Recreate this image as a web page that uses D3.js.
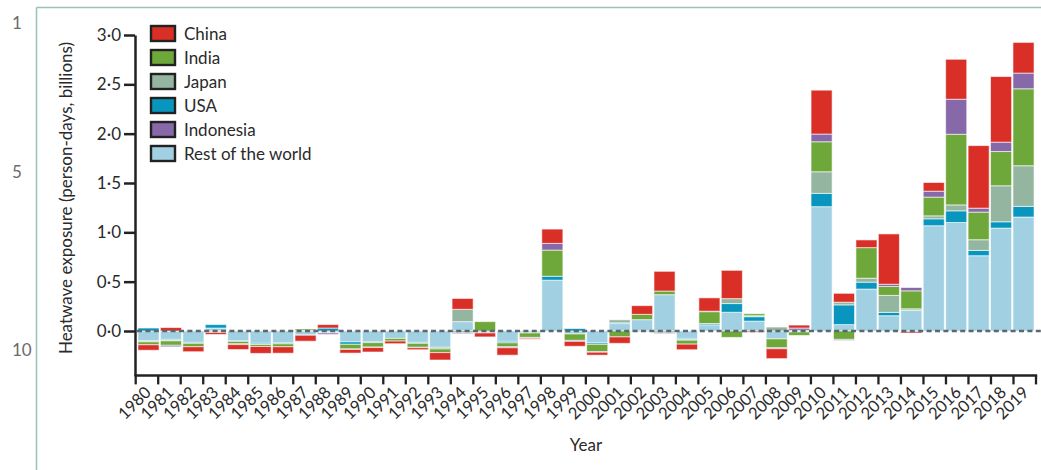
<!DOCTYPE html>
<html>
<head>
<meta charset="utf-8">
<script src="https://cdn.jsdelivr.net/npm/d3@7"></script>
<style>
  body { margin: 0; background: #fff; }
  text { font-family: Lato, "Open Sans", "Noto Sans", sans-serif; fill: #2a2a2a; }
</style>
</head>
<body>
<svg id="chart" width="1041" height="470"></svg>
<script>
// Heatwave exposure change by year, billions of person-days
const years = d3.range(1980, 2020);

const restOfWorld = [-0.10, -0.085, -0.115, 0.03, -0.10, -0.125, -0.12, -0.035, -0.015, -0.11,
  -0.11, -0.075, -0.115, -0.165, 0.095, -0.015, -0.105, -0.015, 0.515, -0.03,
  -0.12, 0.075, 0.115, 0.368, -0.075, 0.063, 0.19, 0.10, -0.08, -0.005,
  1.26, 0.065, 0.425, 0.155, 0.21, 1.067, 1.10, 0.763, 1.043, 1.155];
const usa = [0.03, -0.01, -0.01, 0.035, -0.005, -0.012, -0.01, -0.008, 0.03, -0.025,
  -0.008, 0, -0.01, 0, 0, 0, -0.015, -0.005, 0.04, 0.025,
  -0.015, 0.008, 0, 0, -0.013, 0.013, 0.088, 0.045, 0, 0.008,
  0.135, 0.20, 0.07, 0.034, -0.005, 0.07, 0.118, 0.054, 0.064, 0.108];
const japan = [-0.01, -0.005, 0, -0.005, 0, 0, 0, 0.005, -0.005, 0,
  0, 0, 0, -0.017, 0.125, 0, 0, 0, 0, 0,
  0, 0.03, 0, -0.02, -0.005, 0, 0.05, 0.01, 0.04, -0.005,
  0.219, 0.027, 0.04, 0.172, 0.015, 0.03, 0.06, 0.108, 0.365, 0.412];
const india = [-0.03, -0.045, -0.035, -0.01, -0.025, -0.02, -0.03, 0.015, 0, -0.047,
  -0.045, -0.027, -0.04, -0.037, -0.015, 0.095, -0.04, -0.045, 0.265, -0.065,
  -0.075, -0.06, 0.054, 0.037, -0.04, 0.12, -0.065, 0.02, -0.09, -0.035,
  0.304, -0.085, 0.31, 0.09, 0.182, 0.19, 0.716, 0.28, 0.347, 0.78];
const indonesia = [0, -0.015, 0, 0, -0.008, 0, 0, 0, -0.015, -0.005,
  -0.005, 0, -0.005, 0, -0.012, -0.005, -0.01, -0.008, 0.068, -0.01,
  -0.005, 0, -0.005, -0.007, 0, 0.005, 0, 0, -0.01, 0.022,
  0.078, -0.01, 0, 0.023, 0.034, 0.06, 0.355, 0.04, 0.095, 0.159];
const china = [-0.055, 0.035, -0.05, -0.02, -0.05, -0.07, -0.065, -0.06, 0.035, -0.037,
  -0.045, -0.027, -0.02, -0.075, 0.11, -0.04, -0.075, -0.01, 0.145, -0.05,
  -0.03, -0.065, 0.088, 0.20, -0.057, 0.135, 0.287, -0.012, -0.10, 0.03,
  0.445, 0.09, 0.078, 0.51, -0.015, 0.088, 0.405, 0.634, 0.665, 0.311];

const yTicks = [0, 0.5, 1.0, 1.5, 2.0, 2.5, 3.0];

// Stacking order from the zero line outwards
const stackKeys = ["Rest of the world", "USA", "Japan", "India", "Indonesia", "China"];
const legendKeys = ["China", "India", "Japan", "USA", "Indonesia", "Rest of the world"];
const colors = {
  "China": "#d92f27",
  "India": "#6fa83a",
  "Japan": "#94b59f",
  "USA": "#0896be",
  "Indonesia": "#8768a8",
  "Rest of the world": "#a0d0e2"
};

const seriesByKey = {
  "Rest of the world": restOfWorld, "USA": usa, "Japan": japan,
  "India": india, "Indonesia": indonesia, "China": china
};
const rows = years.map((yr, i) => {
  const r = { year: yr };
  stackKeys.forEach(k => { r[k] = seriesByKey[k][i]; });
  return r;
});

const svg = d3.select("#chart");

// page frame and margin line numbers
const frame = "#96c4ae";
svg.append("line").attr("x1", 36.5).attr("x2", 36.5).attr("y1", 7.5).attr("y2", 470)
  .attr("stroke", frame).attr("stroke-width", 1.5);
svg.append("line").attr("x1", 36.5).attr("x2", 1041).attr("y1", 7.5).attr("y2", 7.5)
  .attr("stroke", frame).attr("stroke-width", 1.5);
[["1", 29], ["5", 178], ["10", 356]].forEach(([t, yy]) => {
  svg.append("text").attr("x", 12).attr("y", yy).attr("font-size", 17)
    .style("fill", "#6b6b6b").text(t);
});

// scales
const y = d3.scaleLinear().domain([-0.45, 3.0]).range([375.4, 35]);
const xEdge = d3.scaleBand().domain(years).range([135.7, 1036]).padding(0);
const x = d3.scaleBand().domain(years).range([137.5, 1034.5]).paddingInner(0.06).paddingOuter(0.02);

const stacked = d3.stack().keys(stackKeys)
  .order(d3.stackOrderNone).offset(d3.stackOffsetDiverging)(rows);

// bars
const gBars = svg.append("g");
stacked.forEach(layer => {
  gBars.append("g").attr("fill", colors[layer.key])
    .selectAll("rect")
    .data(layer.filter(d => d[1] !== d[0]))
    .join("rect")
    .attr("x", d => x(d.data.year))
    .attr("width", x.bandwidth())
    .attr("y", d => y(Math.max(d[0], d[1])))
    .attr("height", d => Math.abs(y(d[0]) - y(d[1])))
    .attr("stroke", "#fff").attr("stroke-opacity", 0.6).attr("stroke-width", 1);
});

// dashed zero line
svg.append("line")
  .attr("x1", 137).attr("x2", 1041)
  .attr("y1", y(0)).attr("y2", y(0))
  .attr("stroke", "#5b6870").attr("stroke-width", 2.4)
  .attr("stroke-dasharray", "5,3.4");

// y axis
const fmt = v => d3.format(".1f")(v).replace(".", "\u00b7");
const yAxis = svg.append("g").attr("transform", "translate(135,0)")
  .call(d3.axisLeft(y).tickValues(yTicks).tickFormat(fmt).tickSize(11).tickSizeOuter(0).tickPadding(3));
yAxis.select(".domain").attr("stroke", "#222").attr("stroke-width", 2.5);
yAxis.selectAll(".tick line").attr("stroke", "#222").attr("stroke-width", 2.5);
yAxis.selectAll(".tick text").attr("font-size", 17).attr("font-family", null).style("fill", "#2a2a2a");

// x axis: ticks at bar edges, labels at bar centres
const axisY = y.range()[0];
const gx = svg.append("g");
gx.append("line").attr("x1", 134.5).attr("x2", 1037.2).attr("y1", axisY).attr("y2", axisY)
  .attr("stroke", "#222").attr("stroke-width", 2.5);
const edges = years.map(v => xEdge(v)).concat([xEdge.range()[1]]);
gx.selectAll("line.tick").data(edges).join("line").attr("class", "tick")
  .attr("x1", d => d).attr("x2", d => d).attr("y1", axisY).attr("y2", axisY + 9)
  .attr("stroke", "#222").attr("stroke-width", 2.3);
gx.selectAll("text").data(years).join("text")
  .attr("transform", d => `translate(${xEdge(d) + xEdge.bandwidth() / 2 + 1},${axisY + 14}) rotate(-45)`)
  .attr("text-anchor", "end").attr("dy", "0.35em")
  .attr("font-size", 16.5).text(d => d);

// axis titles
svg.append("text").attr("x", 586).attr("y", 451).attr("text-anchor", "middle")
  .attr("font-size", 17).text("Year");
svg.append("text").attr("transform", "translate(72,198) rotate(-90)")
  .attr("text-anchor", "middle").attr("font-size", 17)
  .text("Heatwave exposure (person-days, billions)");

// legend
const legend = svg.append("g").attr("transform", "translate(151,26)");
legendKeys.forEach((k, i) => {
  const g = legend.append("g").attr("transform", `translate(0,${i * 24})`);
  g.append("rect").attr("width", 24).attr("height", 15)
    .attr("fill", colors[k]).attr("stroke", "#222").attr("stroke-width", 2.4);
  g.append("text").attr("x", 33).attr("y", 7.5).attr("dy", "0.36em")
    .attr("font-size", 17).text(k);
});
</script>
</body>
</html>
